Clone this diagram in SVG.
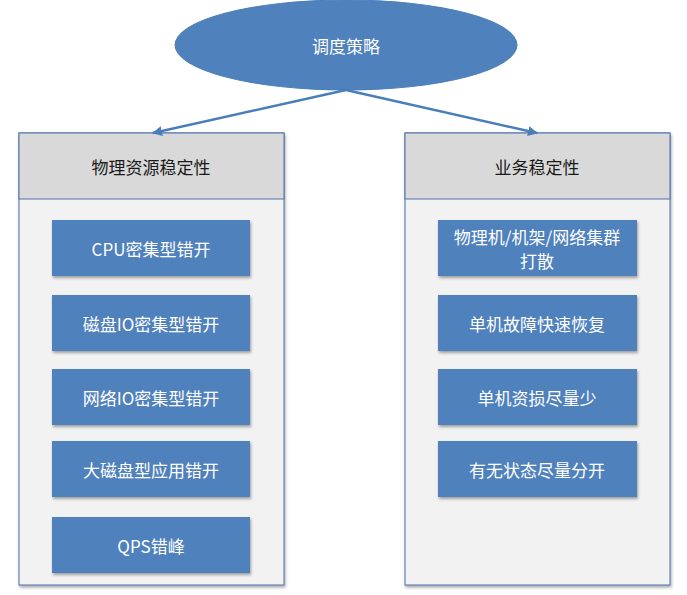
<svg xmlns="http://www.w3.org/2000/svg" width="687" height="595" viewBox="0 0 687 595">
<defs>
<marker id="arr" viewBox="0 0 10 10" refX="9" refY="5" markerWidth="4" markerHeight="4" orient="auto" markerUnits="strokeWidth">
<path d="M0,0 L10,5 L0,10 z" fill="#4a7ebb"/>
</marker>
<filter id="sh" x="-10%" y="-10%" width="120%" height="130%">
<feDropShadow dx="1" dy="2" stdDeviation="1.5" flood-color="#000" flood-opacity="0.35"/>
</filter>
<style>
text{font-family:"Microsoft YaHei","Noto Sans CJK SC",sans-serif;font-size:17px;text-anchor:middle;dominant-baseline:central}
.w{fill:#ffffff}
.k{fill:#1a1a1a}
.box{fill:#4f81bd;filter:url(#sh)}
.panel{fill:#f2f2f2;stroke:#4f6fa8;stroke-width:1}
.head{fill:#d9d9d9;stroke:#4f6fa8;stroke-width:1}
.conn{stroke:#4a7ebb;stroke-width:2.5;fill:none;marker-end:url(#arr)}
</style>
</defs>
<rect width="687" height="595" fill="#ffffff"/>
<g id="root">
<ellipse cx="346" cy="45" rx="171" ry="45" fill="#4f81bd" stroke="#4a7ebb"/>
<text x="346" y="45" class="w">调度策略</text>
</g>
<g id="panel-left">
<rect x="19" y="133" width="265" height="452" class="panel" filter="url(#sh)"/>
<rect x="19" y="133" width="265" height="66" class="head"/>
<text x="151" y="166" class="k">物理资源稳定性</text>
</g>
<g id="panel-right">
<rect x="405" y="133" width="265" height="452" class="panel" filter="url(#sh)"/>
<rect x="405" y="133" width="265" height="66" class="head"/>
<text x="537" y="166" class="k">业务稳定性</text>
</g>
<g id="l1"><rect x="52" y="220" width="198" height="56" class="box"/><text x="151" y="248" class="w">CPU密集型错开</text></g>
<g id="l2"><rect x="52" y="295" width="198" height="56" class="box"/><text x="151" y="323" class="w">磁盘IO密集型错开</text></g>
<g id="l3"><rect x="52" y="369" width="198" height="56" class="box"/><text x="151" y="397" class="w">网络IO密集型错开</text></g>
<g id="l4"><rect x="52" y="441" width="198" height="56" class="box"/><text x="151" y="469" class="w">大磁盘型应用错开</text></g>
<g id="l5"><rect x="52" y="517" width="198" height="56" class="box"/><text x="151" y="545" class="w">QPS错峰</text></g>
<g id="r1"><rect x="438" y="220" width="199" height="56" class="box"/><text x="537" y="236" class="w">物理机/机架/网络集群</text><text x="537" y="260" class="w">打散</text></g>
<g id="r2"><rect x="438" y="295" width="199" height="56" class="box"/><text x="537" y="323" class="w">单机故障快速恢复</text></g>
<g id="r3"><rect x="438" y="369" width="199" height="56" class="box"/><text x="537" y="397" class="w">单机资损尽量少</text></g>
<g id="r4"><rect x="438" y="441" width="199" height="56" class="box"/><text x="537" y="469" class="w">有无状态尽量分开</text></g>
<g id="connectors">
<line x1="346" y1="90" x2="153" y2="133" class="conn"/>
<line x1="346" y1="90" x2="537" y2="133" class="conn"/>
</g>
</svg>
